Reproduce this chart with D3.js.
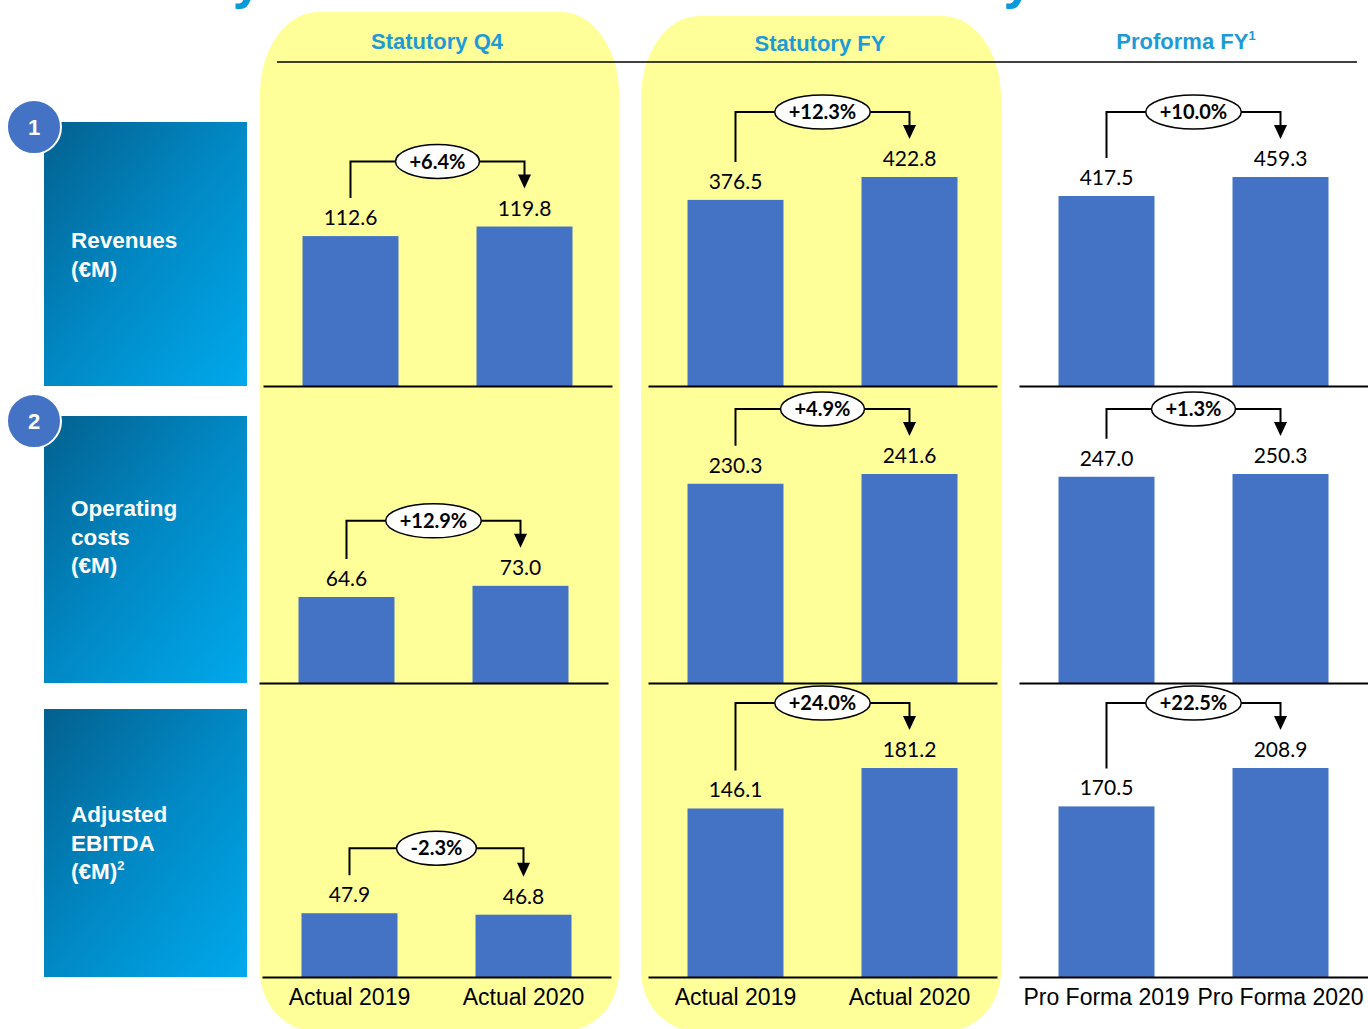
<!DOCTYPE html>
<html>
<head>
<meta charset="utf-8">
<script src="https://cdn.jsdelivr.net/npm/d3@7"></script>
<style>
  html, body { margin: 0; padding: 0; background: #ffffff; }
  svg { display: block; }
</style>
</head>
<body>
<script>
// ---------------- DATA ----------------
const titleText = "Total System FY 2020 Result Summary";
const groupTitles = ["Statutory Q4", "Statutory FY", "Proforma FY"];
const groupTitleSup = ["", "", "1"];
const rowLabels = [["Revenues", "(€M)"], ["Operating", "costs", "(€M)"], ["Adjusted", "EBITDA", "(€M)"]];
const rowLabelSup = ["", "", "2"];
const rowBadges = ["1", "2", ""];
const actualCategories = ["Actual 2019", "Actual 2020"];
const proformaCategories = ["Pro Forma 2019", "Pro Forma 2020"];

const q4Values = [[112.6, 119.8], [64.6, 73.0], [47.9, 46.8]];
const fyValues = [[376.5, 422.8], [230.3, 241.6], [146.1, 181.2]];
const pfValues = [[417.5, 459.3], [247.0, 250.3], [170.5, 208.9]];

const q4Changes = ["+6.4%", "+12.9%", "-2.3%"];
const fyChanges = ["+12.3%", "+4.9%", "+24.0%"];
const pfChanges = ["+10.0%", "+1.3%", "+22.5%"];

const q4AxisMax = 157; // shared value axis for the quarterly column

// ---------------- LAYOUT ----------------
const W = 1368, H = 1029;
const rowBase = [386, 683, 977];
const plotH = 209;
const colX = [263, 648, 1019];
const colW = 349;
const rowShift = [[0, -4, -1], [0, 0, 0], [0, 0, 0]];
const panelTop = [122, 416, 709];
const panelH = [264, 267, 268];
const labelFirstBaseline = [248, 516, 822];

const seriesValues = [q4Values, fyValues, pfValues];
const seriesChanges = [q4Changes, fyChanges, pfChanges];
const seriesCats = [actualCategories, actualCategories, proformaCategories];

const BAR = "#4472c4";
const YELLOW = "#ffff99";
const HEAD = "#1e9ad6";

const svg = d3.select("body").append("svg")
  .attr("width", W).attr("height", H)
  .attr("viewBox", `0 0 ${W} ${H}`);

const defs = svg.append("defs");
const grad = defs.append("linearGradient").attr("id", "panelGrad")
  .attr("x1", 0).attr("y1", 0).attr("x2", 1).attr("y2", 1);
grad.append("stop").attr("offset", "0%").attr("stop-color", "#03608e");
grad.append("stop").attr("offset", "50%").attr("stop-color", "#0189c5");
grad.append("stop").attr("offset", "100%").attr("stop-color", "#00a9ec");

svg.append("rect").attr("width", W).attr("height", H).attr("fill", "#fff");

// Title (cropped at the top edge, as in the source slide)
svg.append("text").attr("x", 60).attr("y", -2)
  .attr("font-family", "Liberation Sans, Arial, sans-serif")
  .attr("font-weight", "bold").attr("font-size", 53)
  .attr("fill", "#0a9ad9").text(titleText);

// Yellow highlight columns
function columnPath(x0, x1, y0, y1, rxT, ryT, rxB, ryB) {
  return `M${x0},${y0 + ryT}` +
    `A${rxT},${ryT} 0 0 1 ${x0 + rxT},${y0}` +
    `H${x1 - rxT}` +
    `A${rxT},${ryT} 0 0 1 ${x1},${y0 + ryT}` +
    `V${y1 - ryB}` +
    `A${rxB},${ryB} 0 0 1 ${x1 - rxB},${y1}` +
    `H${x0 + rxB}` +
    `A${rxB},${ryB} 0 0 1 ${x0},${y1 - ryB}Z`;
}
svg.append("path").attr("d", columnPath(260, 619, 12, 1031, 58, 82, 55, 60)).attr("fill", YELLOW);
svg.append("path").attr("d", columnPath(641, 1001, 16, 1031, 58, 82, 55, 60)).attr("fill", YELLOW);

// Header line and titles
svg.append("line").attr("x1", 277).attr("x2", 1357).attr("y1", 62).attr("y2", 62)
  .attr("stroke", "#000").attr("stroke-width", 1.5);

const headCx = [437, 820, 1186];
const headY = [49, 51, 49];
groupTitles.forEach((t, i) => {
  const tx = svg.append("text").attr("x", headCx[i]).attr("y", headY[i])
    .attr("text-anchor", "middle")
    .attr("font-family", "Liberation Sans, Arial, sans-serif")
    .attr("font-weight", "bold").attr("font-size", 22).attr("fill", HEAD)
    .text(t);
  if (groupTitleSup[i]) {
    tx.append("tspan").attr("font-size", 13).attr("dy", -9).text(groupTitleSup[i]);
  }
});

// Row label panels
rowLabels.forEach((lines, r) => {
  svg.append("rect").attr("x", 44).attr("y", panelTop[r])
    .attr("width", 203).attr("height", panelH[r]).attr("fill", "url(#panelGrad)");
  lines.forEach((ln, k) => {
    const tx = svg.append("text").attr("x", 71).attr("y", labelFirstBaseline[r] + k * 28.5)
      .attr("font-family", "Liberation Sans, Arial, sans-serif")
      .attr("font-weight", "bold").attr("font-size", 22.5).attr("fill", "#fff")
      .text(ln);
    if (k === lines.length - 1 && rowLabelSup[r]) {
      tx.append("tspan").attr("font-size", 13).attr("dy", -9).text(rowLabelSup[r]);
    }
  });
  if (rowBadges[r]) {
    const by = panelTop[r] + 5;
    svg.append("circle").attr("cx", 34).attr("cy", by).attr("r", 27)
      .attr("fill", BAR).attr("stroke", "#fff").attr("stroke-width", 2);
    svg.append("text").attr("x", 34).attr("y", by + 8).attr("text-anchor", "middle")
      .attr("font-family", "Liberation Sans, Arial, sans-serif")
      .attr("font-weight", "bold").attr("font-size", 22).attr("fill", "#fff")
      .text(rowBadges[r]);
  }
});

// Charts
seriesValues.forEach((rows, g) => {
  const cats = seriesCats[g];
  rows.forEach((vals, r) => {
    const x0 = colX[g] + rowShift[g][r];
    const base = rowBase[r];
    const x = d3.scaleBand().domain(cats).range([x0, x0 + colW])
      .paddingInner(0.4483).paddingOuter(0.227);
    const yMax = g === 0 ? q4AxisMax : d3.max(vals);
    const y = d3.scaleLinear().domain([0, yMax]).range([base, base - plotH]);
    const data = cats.map((c, i) => ({ c, v: vals[i] }));
    const gg = svg.append("g");

    gg.selectAll("rect.bar").data(data).join("rect").attr("class", "bar")
      .attr("x", d => x(d.c)).attr("y", d => y(d.v))
      .attr("width", x.bandwidth()).attr("height", d => base - y(d.v))
      .attr("fill", BAR);

    // Axis (baseline + category labels on the last row)
    const axis = gg.append("g").attr("transform", `translate(0,${base})`)
      .call(d3.axisBottom(x).tickSize(0).tickSizeOuter(0).tickPadding(12));
    axis.select(".domain").attr("stroke", "#000").attr("stroke-width", 2);
    axis.selectAll("text")
      .attr("font-family", "Liberation Sans, Arial, sans-serif")
      .attr("font-size", 23).attr("fill", "#000");
    if (r < rows.length - 1) axis.selectAll(".tick").remove();

    // Value labels
    gg.selectAll("text.val").data(data).join("text").attr("class", "val")
      .attr("x", d => x(d.c) + x.bandwidth() / 2).attr("y", d => y(d.v) - 11)
      .attr("text-anchor", "middle")
      .attr("font-family", "Lato, Carlito, sans-serif").attr("font-size", 21)
      .attr("fill", "#000").text(d => d.v.toFixed(1));

    // Change connector
    const cx0 = x(cats[0]) + x.bandwidth() / 2;
    const cx1 = x(cats[1]) + x.bandwidth() / 2;
    const y0 = y(vals[0]), y1 = y(vals[1]);
    const cy = Math.min(y0, y1) - 65;
    const tip = y1 - 38;
    gg.append("path")
      .attr("d", `M${cx0},${y0 - 38}V${cy}H${cx1}V${tip - 13}`)
      .attr("fill", "none").attr("stroke", "#000").attr("stroke-width", 2);
    gg.append("path")
      .attr("d", `M${cx1 - 6.5},${tip - 14}L${cx1 + 6.5},${tip - 14}L${cx1},${tip}Z`)
      .attr("fill", "#000");
    const mid = (cx0 + cx1) / 2;
    const ell = gg.append("ellipse").attr("cx", mid).attr("cy", cy).attr("ry", 17)
      .attr("fill", "#fff").attr("stroke", "#000").attr("stroke-width", 1.5);
    const pt = gg.append("text").attr("x", mid).attr("y", cy + 7)
      .attr("text-anchor", "middle")
      .attr("font-family", "Lato, Carlito, sans-serif").attr("font-weight", "bold")
      .attr("font-size", 20).attr("fill", "#000").text(seriesChanges[g][r]);
    const tw = pt.node().getComputedTextLength();
    ell.attr("rx", tw / 2 + 14);
  });
});
</script>
</body>
</html>
